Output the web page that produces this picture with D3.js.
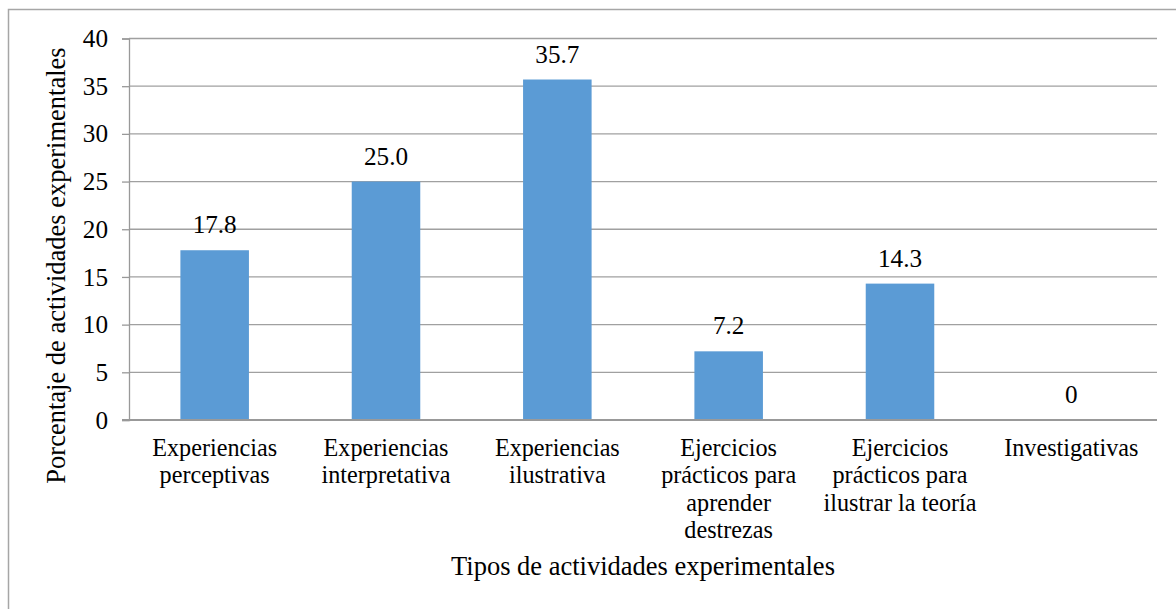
<!DOCTYPE html>
<html>
<head>
<meta charset="utf-8">
<script src="https://cdn.jsdelivr.net/npm/d3@7"></script>
<style>
  html, body { margin: 0; padding: 0; background: #fff; }
  svg { display: block; }
  svg text { font-family: "Liberation Serif", "Times New Roman", serif; }
</style>
</head>
<body>
<svg id="chart" width="1176" height="609"></svg>
<script>
// Activity types (line breaks mark label wrapping) and their percentages
const categories = [
  "Experiencias\nperceptivas",
  "Experiencias\ninterpretativa",
  "Experiencias\nilustrativa",
  "Ejercicios\nprácticos para\naprender\ndestrezas",
  "Ejercicios\nprácticos para\nilustrar la teoría",
  "Investigativas"
];
const values = [17.8, 25.0, 35.7, 7.2, 14.3, 0];
const valueLabels = ["17.8", "25.0", "35.7", "7.2", "14.3", "0"];
const yTicks = [0, 5, 10, 15, 20, 25, 30, 35, 40];
const xTitle = "Tipos de actividades experimentales";
const yTitle = "Porcentaje de actividades experimentales";

const FONT = "'Liberation Serif', 'Times New Roman', serif";
const svg = d3.select("#chart");
const W = 1176, H = 609;
const plot = { left: 129, right: 1157, top: 38.5, bottom: 420 };

// outer chart frame (runs off the right and bottom edges)
svg.append("rect")
  .attr("x", 8.5).attr("y", 9.5)
  .attr("width", W + 20).attr("height", H + 20)
  .attr("fill", "none").attr("stroke", "#a6a6a6").attr("stroke-width", 1.5);

const x = d3.scaleBand()
  .domain(categories)
  .range([plot.left, plot.right])
  .paddingInner(0.6).paddingOuter(0.3);

const y = d3.scaleLinear().domain([0, 40]).range([plot.bottom, plot.top]);

// horizontal gridlines
svg.append("g")
  .selectAll("line")
  .data(yTicks.filter(d => d > 0))
  .join("line")
  .attr("x1", plot.left).attr("x2", plot.right)
  .attr("y1", d => y(d)).attr("y2", d => y(d))
  .attr("stroke", "#a0a0a0").attr("stroke-width", 1.3);

// y axis
const yAxis = svg.append("g")
  .attr("transform", `translate(${plot.left},0)`)
  .call(d3.axisLeft(y).tickValues(yTicks).tickSize(7).tickPadding(14).tickFormat(d3.format("d")));
yAxis.attr("font-family", null);
yAxis.select(".domain").attr("stroke", "#999").attr("stroke-width", 1.3);
yAxis.selectAll(".tick line").attr("stroke", "#999").attr("stroke-width", 1.3);
yAxis.selectAll(".tick text")
  .style("font-family", FONT)
  .style("font-size", "25.2px").attr("fill", "#000");

// bars
svg.append("g")
  .selectAll("rect")
  .data(values)
  .join("rect")
  .attr("x", (d, i) => x(categories[i]))
  .attr("width", x.bandwidth())
  .attr("y", d => y(d))
  .attr("height", d => y(0) - y(d))
  .attr("fill", "#5b9bd5");

// baseline (x axis line)
svg.append("line")
  .attr("x1", plot.left - 7).attr("x2", plot.right)
  .attr("y1", y(0)).attr("y2", y(0))
  .attr("stroke", "#999").attr("stroke-width", 2);

// value labels above bars
svg.append("g")
  .selectAll("text")
  .data(values)
  .join("text")
  .attr("x", (d, i) => x(categories[i]) + x.bandwidth() / 2)
  .attr("y", d => y(d) - 17)
  .attr("text-anchor", "middle")
  .style("font-family", FONT)
  .style("font-size", "25.2px").attr("fill", "#000")
  .text((d, i) => valueLabels[i]);

// category labels, wrapped
const catG = svg.append("g");
categories.forEach(c => {
  const t = catG.append("text")
    .attr("text-anchor", "middle")
    .style("font-family", FONT)
    .style("font-size", "24.2px").attr("fill", "#000");
  c.split("\n").forEach((line, j) => {
    t.append("tspan")
      .attr("x", x(c) + x.bandwidth() / 2)
      .attr("y", 456 + j * 27.3)
      .text(line);
  });
});

// axis titles
svg.append("text")
  .attr("x", (plot.left + plot.right) / 2)
  .attr("y", 575)
  .attr("text-anchor", "middle")
  .style("font-family", FONT)
  .style("font-size", "26.5px").attr("fill", "#000")
  .text(xTitle);

svg.append("text")
  .attr("transform", "translate(65,265.5) rotate(-90)")
  .attr("text-anchor", "middle")
  .style("font-family", FONT)
  .style("font-size", "26.5px").attr("fill", "#000")
  .text(yTitle);
</script>
</body>
</html>
